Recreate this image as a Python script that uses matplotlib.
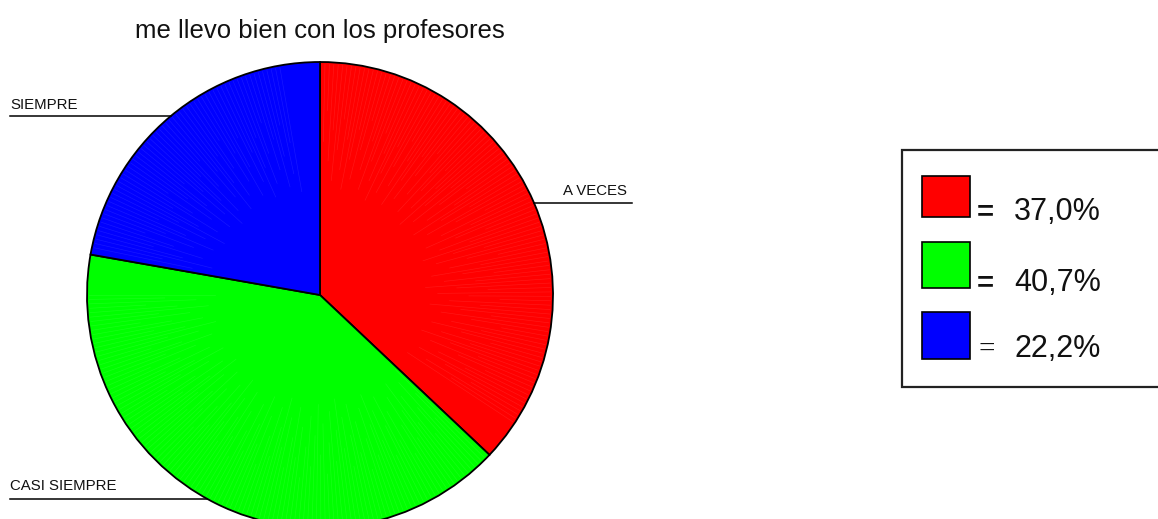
import numpy as np
import matplotlib
matplotlib.use('Agg')
import matplotlib.pyplot as plt
from matplotlib.patches import Rectangle

# Respuestas a "me llevo bien con los profesores"
categorias = ['A VECES', 'CASI SIEMPRE', 'SIEMPRE']
porcentajes = [37.0, 40.7, 22.2]
colores = ['#ff0000', '#00ff00', '#0000ff']

W, H = 1158, 519
plt.rcParams['font.family'] = ['Liberation Sans', 'DejaVu Sans']

fig = plt.figure(figsize=(W / 100, H / 100), dpi=100)
ax = fig.add_axes([0, 0, 1, 1])

# pixel-like coordinates, y measured from the top
def py(y):
    return H - y

cx, cy, R = 320, 295, 233

wedges, _ = ax.pie(porcentajes, colors=colores, startangle=90, counterclock=False,
                   center=(cx, py(cy)), radius=R,
                   wedgeprops=dict(edgecolor='black', linewidth=1.3, antialiased=True))

# faint fan-like streaks near the rim of each slice
for w, c in zip(wedges, colores):
    t1, t2 = sorted([w.theta1, w.theta2])
    for k, t in enumerate(np.arange(t1 + 10, t2 - 1, 1.1)):
        a = np.radians(t)
        r0 = 0.45 + 0.35 * ((k * 0.618) % 1.0)
        ax.plot([cx + r0 * R * np.cos(a), cx + 0.99 * R * np.cos(a)],
                [py(cy) + r0 * R * np.sin(a), py(cy) + 0.99 * R * np.sin(a)],
                color='white', alpha=0.09, lw=0.5, zorder=2)

ax.set_xlim(0, W)
ax.set_ylim(0, H)
ax.set_aspect('auto')
ax.axis('off')

# title
ax.text(320, py(38), 'me llevo bien con los profesores', fontsize=18.5,
        ha='center', va='baseline', color='#111111')

# category labels with underline leaders reaching the pie edge
def edge_x(y, side):
    return cx + side * np.sqrt(R ** 2 - (y - cy) ** 2)

etiquetas = [
    (categorias[0], 563, 195, 203, 632, +1),
    (categorias[2], 10, 109, 116, 10, -1),
    (categorias[1], 10, 490, 499, 10, -1),
]
for txt, tx, tb, ly, lx, side in etiquetas:
    ax.text(tx, py(tb), txt, fontsize=10.8, ha='left', va='baseline', color='#111111')
    ex = edge_x(ly, side)
    ax.plot([min(lx, ex), max(lx, ex)], [py(ly), py(ly)], color='black', lw=1.1, zorder=1)

# legend box
ax.add_patch(Rectangle((902, py(387)), 270, 237, facecolor='white',
                       edgecolor='#222222', linewidth=1.6, zorder=3))

cajas_y = [(176, 217, 220), (242, 288, 291), (312, 359, 357)]
for i, (c, v) in enumerate(zip(colores, porcentajes)):
    y0, y1, base = cajas_y[i]
    ax.add_patch(Rectangle((922, py(y1)), 48, y1 - y0, facecolor=c,
                           edgecolor='black', linewidth=1.2, zorder=4))
    if i == 2:
        ax.text(978, py(base), '=', fontsize=21, family=['Liberation Serif'],
                ha='left', va='baseline', color='#111111', zorder=5)
    else:
        ax.text(977, py(base), '=', fontsize=21, fontweight='bold',
                ha='left', va='baseline', color='#111111', zorder=5)
    etiqueta = f'{v:.1f}'.replace('.', ',') + '%'
    ax.text(1014, py(base), etiqueta, fontsize=22, ha='left', va='baseline',
            color='#111111', zorder=5)

fig.savefig('out.png', dpi=100)
